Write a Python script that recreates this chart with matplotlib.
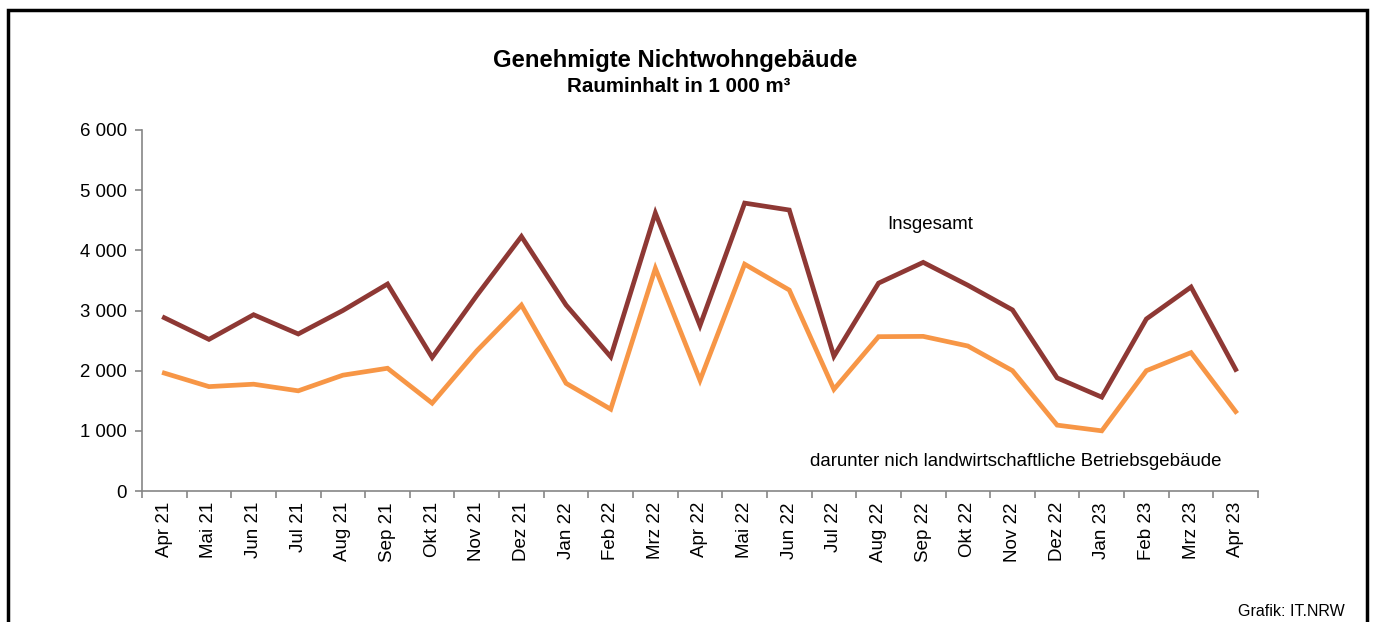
import matplotlib
matplotlib.use('Agg')
import matplotlib.pyplot as plt
from matplotlib.patches import Rectangle
from matplotlib.ticker import FuncFormatter, FixedLocator
import numpy as np

plt.rcParams['font.family'] = ['Liberation Sans', 'DejaVu Sans']

months = ['Apr 21', 'Mai 21', 'Jun 21', 'Jul 21', 'Aug 21', 'Sep 21', 'Okt 21',
          'Nov 21', 'Dez 21', 'Jan 22', 'Feb 22', 'Mrz 22', 'Apr 22', 'Mai 22',
          'Jun 22', 'Jul 22', 'Aug 22', 'Sep 22', 'Okt 22', 'Nov 22', 'Dez 22',
          'Jan 23', 'Feb 23', 'Mrz 23', 'Apr 23']
insgesamt = [2880, 2520, 2930, 2610, 3000, 3440, 2220, 3250, 4230, 3090, 2230,
             4620, 2750, 4785, 4670, 2240, 3455, 3800, 3420, 3010, 1880, 1560,
             2860, 3390, 2020]
betrieb = [1960, 1735, 1775, 1665, 1925, 2040, 1460, 2330, 3090, 1790, 1360,
           3700, 1840, 3770, 3340, 1690, 2565, 2570, 2410, 2000, 1095, 1000,
           2000, 2300, 1320]

W, H = 1373, 622
fig = plt.figure(figsize=(W / 100, H / 100), dpi=100)
ax = fig.add_axes([142 / W, 1 - 491 / H, (1258 - 142) / W, (491 - 130) / H])

x = np.arange(len(months))
ax.plot(x, insgesamt, color='#8E3834', lw=3.4, solid_joinstyle='miter')
ax.plot(x, betrieb, color='#F79646', lw=3.4, solid_joinstyle='miter')

ax.set_xlim(-0.5, len(months) - 0.5)
ax.set_ylim(0, 6000)
ax.set_yticks(range(0, 6001, 1000))
ax.yaxis.set_major_formatter(FuncFormatter(lambda v, p: f'{int(v):,}'.replace(',', ' ')))
ax.set_xticks(x)
ax.set_xticklabels(months, rotation=90, fontsize=13.5)
ax.xaxis.set_minor_locator(FixedLocator(np.arange(-0.5, len(months), 1.0)))
ax.tick_params(axis='x', which='major', length=0, pad=8)
ax.tick_params(axis='x', which='minor', length=5, color='#868686', width=1.2)
ax.tick_params(axis='y', length=5, color='#868686', width=1.2, labelsize=13.4, pad=6)

for s in ['top', 'right']:
    ax.spines[s].set_visible(False)
for s in ['left', 'bottom']:
    ax.spines[s].set_color('#868686')
    ax.spines[s].set_linewidth(1.2)

fig.text(675 / W, 1 - 60 / H, 'Genehmigte Nichtwohngebäude', ha='center', va='center',
         fontsize=17.2, fontweight='bold')
fig.text(679 / W, 1 - 86 / H, 'Rauminhalt in 1 000 m³', ha='center', va='center',
         fontsize=14.8, fontweight='bold')

ax.text(17.15, 4437, 'Insgesamt', ha='center', va='center', fontsize=13.4)
ax.text(19.08, 482, 'darunter nich landwirtschaftliche Betriebsgebäude', ha='center',
        va='center', fontsize=13.4)

fig.text(1345 / W, 1 - 612 / H, 'Grafik: IT.NRW', ha='right', va='center', fontsize=11.5)

fig.patches.append(Rectangle((8 / W, -0.1), (1367 - 8) / W, 1.1 - 10 / H,
                             transform=fig.transFigure, fill=False, lw=2.5,
                             edgecolor='black'))

fig.savefig('out.png', dpi=100)
